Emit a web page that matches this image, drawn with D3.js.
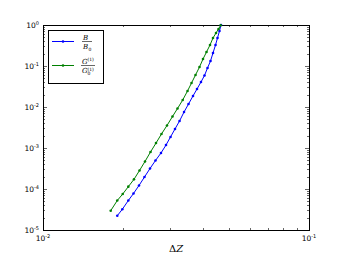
<!DOCTYPE html>
<html>
<head>
<meta charset="utf-8">
<script src="https://cdn.jsdelivr.net/npm/d3@7"></script>
<style>
  body { margin: 0; background: #fff; }
  svg { display: block; }
</style>
</head>
<body>
<div id="chart"></div>
<script>
// values
var dzB = [0.01902, 0.01987, 0.02093, 0.02189, 0.02296, 0.02407, 0.02525, 0.02648, 0.02777,
           0.02900, 0.03016, 0.03135, 0.03261, 0.03390, 0.03524, 0.03664, 0.03793, 0.03926,
           0.04047, 0.04154, 0.04263, 0.04356, 0.04452, 0.04529, 0.04608, 0.04669];
var ratioB = [2.23e-5, 3.20e-5, 5.24e-5, 7.77e-5, 1.22e-4, 1.96e-4, 3.16e-4, 4.96e-4, 7.55e-4,
              1.18e-3, 1.86e-3, 2.91e-3, 4.56e-3, 7.55e-3, 1.18e-2, 1.86e-2, 2.75e-2, 4.07e-2,
              5.87e-2, 8.94e-2, 0.1324, 0.2076, 0.3252, 0.4818, 0.714, 1.0];
var dzG = [0.01797, 0.01902, 0.01994, 0.02093, 0.02198, 0.02306, 0.02418, 0.02536, 0.02660,
           0.02789, 0.02925, 0.03068, 0.03204, 0.03351, 0.03494, 0.03617, 0.03744, 0.03876,
           0.03995, 0.04118, 0.04245, 0.04356, 0.04471, 0.04569, 0.04656];
var ratioG = [2.96e-5, 5.24e-5, 7.55e-5, 1.14e-4, 1.72e-4, 2.83e-4, 4.69e-4, 7.99e-4, 1.32e-3,
              2.20e-3, 3.54e-3, 5.87e-3, 9.19e-3, 1.48e-2, 2.46e-2, 3.85e-2, 6.03e-2, 9.45e-2,
              0.148, 0.2195, 0.3252, 0.4818, 0.638, 0.799, 0.983];
var xTicks = [0.01, 0.1];
var xTickExp = ["-2", "-1"];
var yTicks = [1e-5, 1e-4, 1e-3, 1e-2, 1e-1, 1];
var yTickExp = ["-5", "-4", "-3", "-2", "-1", "0"];

var width = 344, height = 257;
var margin = {left: 43, right: 35, top: 25, bottom: 27};

var svg = d3.select("#chart").append("svg")
    .attr("width", width)
    .attr("height", height);

var x = d3.scaleLog().domain([0.01, 0.1]).range([margin.left, width - margin.right]);
var y = d3.scaleLog().domain([1e-5, 1]).range([height - margin.bottom, margin.top]);

var x0 = x.range()[0], x1 = x.range()[1];
var y0 = y.range()[0], y1 = y.range()[1];

// ticks, inward on all four sides
var ticks = svg.append("g").attr("stroke", "#000").attr("stroke-width", 0.6);
x.ticks().forEach(function(t) {
  var major = xTicks.indexOf(t) >= 0;
  var len = major ? 4 : 2;
  var px = Math.round(x(t)) + 0.5;
  ticks.append("line").attr("x1", px).attr("x2", px).attr("y1", y0).attr("y2", y0 - len);
  ticks.append("line").attr("x1", px).attr("x2", px).attr("y1", y1).attr("y2", y1 + len);
});
y.ticks().forEach(function(t) {
  var major = yTicks.indexOf(t) >= 0;
  var len = major ? 4 : 2;
  var py = Math.round(y(t)) + 0.5;
  ticks.append("line").attr("y1", py).attr("y2", py).attr("x1", x0).attr("x2", x0 + len);
  ticks.append("line").attr("y1", py).attr("y2", py).attr("x1", x1).attr("x2", x1 - len);
});

// frame
svg.append("rect")
    .attr("x", x0 + 0.5).attr("y", y1 + 0.5)
    .attr("width", x1 - x0).attr("height", y0 - y1)
    .attr("fill", "none").attr("stroke", "#000").attr("stroke-width", 1);

// tick labels
var labFont = "DejaVu Sans, sans-serif";
yTicks.forEach(function(t, i) {
  var tx = svg.append("text")
      .attr("x", x0 - 4).attr("y", y(t) + 3)
      .attr("text-anchor", "end")
      .attr("font-family", labFont).attr("font-size", 7.5).attr("fill", "#000");
  tx.append("tspan").text("10");
  tx.append("tspan").attr("dy", -3.5).attr("font-size", 5).text(yTickExp[i]);
});
xTicks.forEach(function(t, i) {
  var tx = svg.append("text")
      .attr("x", x(t)).attr("y", y0 + 11)
      .attr("text-anchor", "middle")
      .attr("font-family", labFont).attr("font-size", 7.5).attr("fill", "#000");
  tx.append("tspan").text("10");
  tx.append("tspan").attr("dy", -3.5).attr("font-size", 5).text(xTickExp[i]);
});

// axis label
var xl = svg.append("text")
    .attr("x", (x0 + x1) / 2).attr("y", 252)
    .attr("text-anchor", "middle")
    .attr("font-family", "DejaVu Serif, serif").attr("font-size", 10).attr("fill", "#000");
xl.append("tspan").text("Δ");
xl.append("tspan").attr("font-style", "italic").text("Z");

// series
var line = d3.line()
    .x(function(d) { return x(d[0]); })
    .y(function(d) { return y(d[1]); });

var series = [
  {color: "#0000ff", data: d3.zip(dzB, ratioB)},
  {color: "#008000", data: d3.zip(dzG, ratioG)}
];

var plot = svg.append("g");
series.forEach(function(s) {
  plot.append("path")
      .datum(s.data)
      .attr("d", line)
      .attr("fill", "none")
      .attr("stroke", s.color)
      .attr("stroke-width", 1);
  plot.selectAll(null).data(s.data).enter().append("circle")
      .attr("cx", function(d) { return x(d[0]); })
      .attr("cy", function(d) { return y(d[1]); })
      .attr("r", 1.3)
      .attr("fill", s.color);
});

// legend
var leg = svg.append("g");
leg.append("rect")
    .attr("x", 48.5).attr("y", 30.5).attr("width", 55).attr("height", 53)
    .attr("fill", "#fff").attr("stroke", "#000").attr("stroke-width", 1);

var serif = "DejaVu Serif, serif";
// a small stacked fraction: symbol with optional superscript over symbol with subscript
function fraction(cx, cy, sym, sup) {
  var g = leg.append("g").attr("font-family", serif).attr("fill", "#000");
  var w = sup ? 12 : 8;
  var left = cx - w / 2;
  g.append("text").attr("x", left).attr("y", cy - 2)
      .attr("font-size", 7).attr("font-style", "italic").text(sym);
  if (sup) g.append("text").attr("x", left + 5.5).attr("y", cy - 5).attr("font-size", 4.5).text(sup);
  g.append("line").attr("x1", left - 1).attr("x2", left + w + 1).attr("y1", cy).attr("y2", cy)
      .attr("stroke", "#000").attr("stroke-width", 0.6);
  g.append("text").attr("x", left).attr("y", cy + 7.5)
      .attr("font-size", 7).attr("font-style", "italic").text(sym);
  if (sup) g.append("text").attr("x", left + 5.5).attr("y", cy + 5).attr("font-size", 4.5).text(sup);
  g.append("text").attr("x", left + 5.5).attr("y", cy + 9.5).attr("font-size", 4.5).text("0");
}

[{y: 41, color: "#0000ff"}, {y: 65, color: "#008000"}].forEach(function(e) {
  leg.append("line").attr("x1", 52).attr("x2", 74).attr("y1", e.y + 0.5).attr("y2", e.y + 0.5)
      .attr("stroke", e.color).attr("stroke-width", 1);
  leg.append("circle").attr("cx", 63).attr("cy", e.y + 0.5).attr("r", 1.3).attr("fill", e.color);
});
fraction(87, 41.5, "B", null);
fraction(88, 65.5, "G", "(1)");
</script>
</body>
</html>
